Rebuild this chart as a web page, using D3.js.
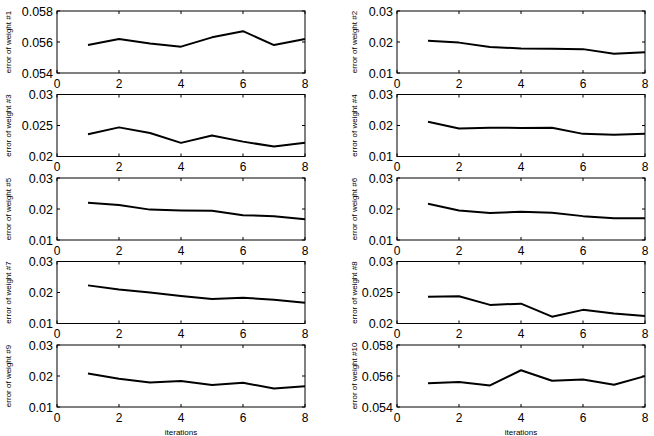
<!DOCTYPE html>
<html><head><meta charset="utf-8">
<script src="https://cdn.jsdelivr.net/npm/d3@7"></script>
<style>
body{margin:0;background:#fff;}
svg{display:block;}
text{font-family:"Liberation Sans",Arial,Helvetica,sans-serif;fill:#000;}
</style></head><body>
<svg id="c" width="654" height="436"></svg>
<script>
const iterations = [1,2,3,4,5,6,7,8];
const xTicks = [0,2,4,6,8];
const w1  = [0.0558,0.0562,0.0559,0.0557,0.0563,0.0567,0.0558,0.0562];
const w2  = [0.0204,0.0198,0.0184,0.0179,0.0178,0.0177,0.0162,0.0167];
const w3  = [0.0236,0.0247,0.0238,0.0222,0.0234,0.0224,0.0216,0.0222];
const w4  = [0.0212,0.0190,0.0193,0.0192,0.0193,0.0173,0.0170,0.0173];
const w5  = [0.0220,0.0213,0.0198,0.0195,0.0194,0.0180,0.0177,0.0167];
const w6  = [0.0217,0.0195,0.0187,0.0191,0.0188,0.0177,0.0170,0.0170];
const w7  = [0.0223,0.0210,0.0200,0.0189,0.0179,0.0183,0.0177,0.0167];
const w8  = [0.0243,0.0244,0.0230,0.0232,0.0211,0.0222,0.0216,0.0212];
const w9  = [0.0208,0.0191,0.0179,0.0184,0.0171,0.0178,0.0160,0.0167];
const w10 = [0.05554,0.05561,0.05539,0.05637,0.05569,0.05578,0.05544,0.05599];
const series = [w1,w2,w3,w4,w5,w6,w7,w8,w9,w10];
const yTicksA = [0.054,0.056,0.058];
const yTicksB = [0.01,0.02,0.03];
const yTicksC = [0.02,0.025,0.03];
const yTickSets = [yTicksA,yTicksB,yTicksC,yTicksB,yTicksB,yTicksB,yTicksB,yTicksC,yTicksB,yTicksA];
const labels = series.map((s,i)=>"error of weight  #"+(i+1));

const svg = d3.select("#c");
const colX = [57,397], pw = 248, ph = 62;
const rowY = [11,94.5,178,261.5,345];

series.forEach((vals,i)=>{
  const col = i%2, row = Math.floor(i/2);
  const x0 = colX[col], y0 = rowY[row];
  const ticks = yTickSets[i];
  const x = d3.scaleLinear().domain([0,8]).range([x0,x0+pw]);
  const y = d3.scaleLinear().domain([ticks[0],ticks[2]]).range([y0+ph,y0]);
  const g = svg.append("g");
  g.append("rect").attr("x",x0).attr("y",y0).attr("width",pw).attr("height",ph)
    .attr("fill","#fff").attr("stroke","#000").attr("stroke-width",1);
  xTicks.forEach(t=>{
    g.append("line").attr("x1",x(t)).attr("x2",x(t)).attr("y1",y0+ph).attr("y2",y0+ph-3).attr("stroke","#000");
    g.append("line").attr("x1",x(t)).attr("x2",x(t)).attr("y1",y0).attr("y2",y0+3).attr("stroke","#000");
    g.append("text").attr("x",x(t)).attr("y",y0+ph+14.5).attr("text-anchor","middle")
      .attr("font-size",12).text(t);
  });
  ticks.forEach(t=>{
    g.append("line").attr("x1",x0).attr("x2",x0+3).attr("y1",y(t)).attr("y2",y(t)).attr("stroke","#000");
    g.append("line").attr("x1",x0+pw).attr("x2",x0+pw-3).attr("y1",y(t)).attr("y2",y(t)).attr("stroke","#000");
    g.append("text").attr("x",x0-4).attr("y",y(t)+4.5).attr("text-anchor","end")
      .attr("font-size",12.5).text(String(t));
  });
  const line = d3.line().x((d,j)=>x(iterations[j])).y(d=>y(d));
  g.append("path").datum(vals).attr("d",line).attr("fill","none")
    .attr("stroke","#000").attr("stroke-width",2).attr("stroke-linejoin","round");
  const lx = col===0 ? 11 : 357;
  g.append("text").attr("transform",`translate(${lx},${y0+ph/2}) rotate(-90)`)
    .attr("text-anchor","middle").attr("font-size",8).text(labels[i]);
  if(row===4){
    g.append("text").attr("x",x0+pw/2).attr("y",y0+ph+27.5).attr("text-anchor","middle")
      .attr("font-size",8).text("iterations");
  }
});
</script></body></html>
